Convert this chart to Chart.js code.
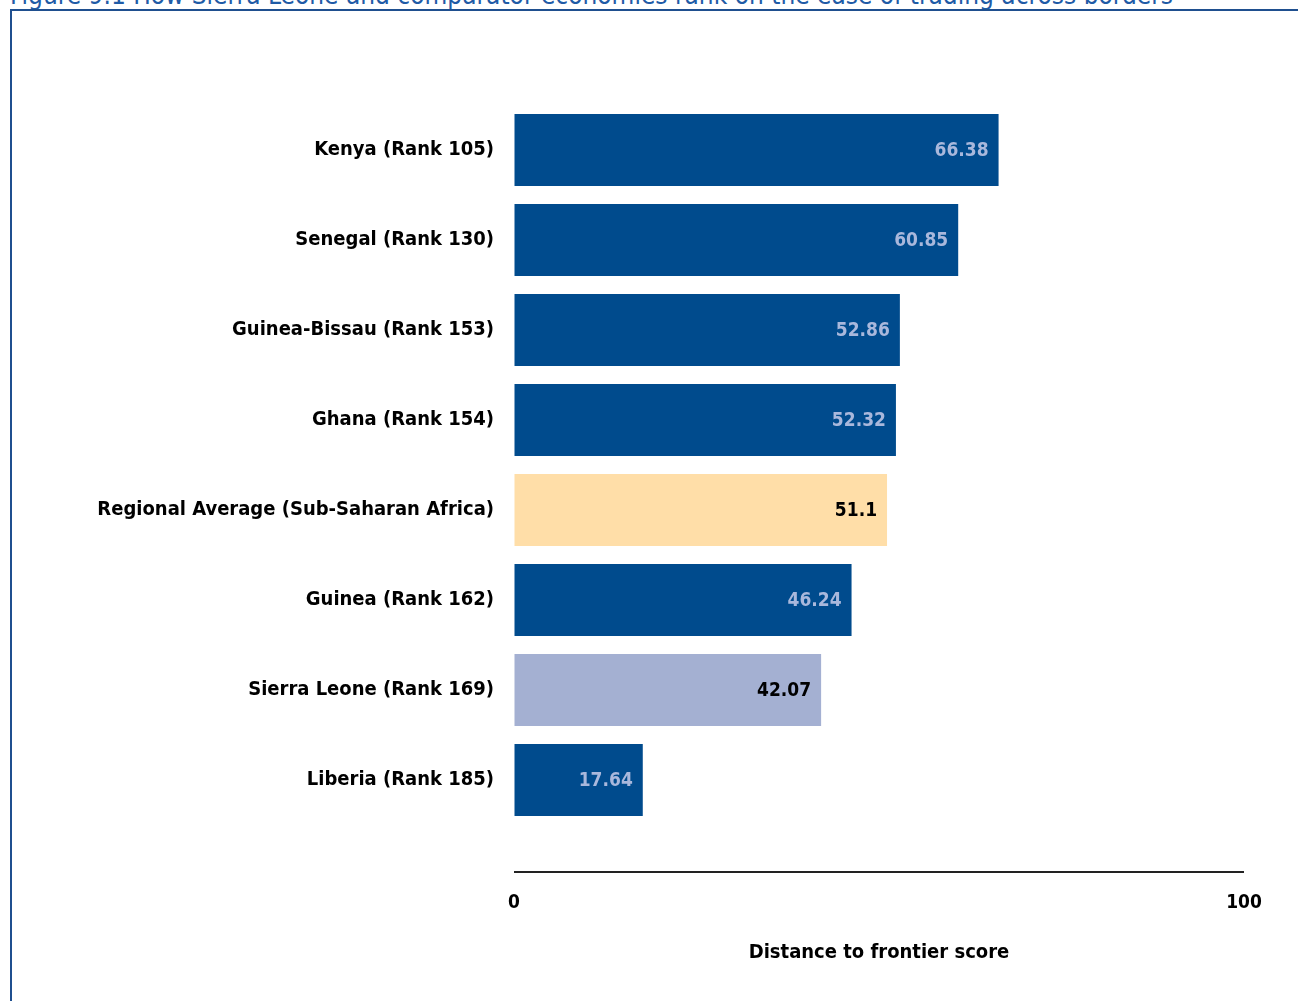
<!DOCTYPE html>
<html>
<head>
<meta charset="utf-8">
<script src="https://cdn.jsdelivr.net/npm/chart.js@4.4.0/dist/chart.umd.min.js"></script>
<style>
  body { margin: 0; background: #fff; overflow: hidden; }
  #wrap { position: relative; width: 1298px; height: 1001px; }
  #title {
    position: absolute; left: 10px; top: -20px; white-space: nowrap;
    font: 26px 'DejaVu Sans Condensed', 'DejaVu Sans', sans-serif; color: #1f5ba6;
  }
  #frame {
    position: absolute; left: 10px; top: 9px; width: 1300px; height: 1000px;
    border-left: 2px solid #1f4f8f; border-top: 2px solid #1f4f8f;
  }
  canvas { position: absolute; left: 0; top: 0; }
</style>
</head>
<body>
<div id="wrap">
  <div id="title">Figure 9.1 How Sierra Leone and comparator economies rank on the ease of trading across borders</div>
  <div id="frame"></div>
  <canvas id="chart" width="1298" height="1001"></canvas>
</div>
<script>
// economies, scores and bar colours
const economies = [
    'Kenya (Rank 105)',
    'Senegal (Rank 130)',
    'Guinea-Bissau (Rank 153)',
    'Ghana (Rank 154)',
    'Regional Average (Sub-Saharan Africa)',
    'Guinea (Rank 162)',
    'Sierra Leone (Rank 169)',
    'Liberia (Rank 185)'
];
const scores = [66.38, 60.85, 52.86, 52.32, 51.1, 46.24, 42.07, 17.64];
const scoreLabels = ['66.38', '60.85', '52.86', '52.32', '51.1', '46.24', '42.07', '17.64'];
const barColors = ['#004b8d', '#004b8d', '#004b8d', '#004b8d', '#ffdea8', '#004b8d', '#a4b0d2', '#004b8d'];
const valueColors = ['#a9b8dc', '#a9b8dc', '#a9b8dc', '#a9b8dc', '#000000', '#a9b8dc', '#000000', '#a9b8dc'];
const xTicks = [0, 100];

const fontFamily = "'DejaVu Sans Condensed', 'DejaVu Sans', sans-serif";

// value labels inside the bar ends
const valueLabels = {
    id: 'valueLabels',
    afterDatasetsDraw(chart) {
        const ctx = chart.ctx;
        const meta = chart.getDatasetMeta(0);
        ctx.save();
        ctx.font = 'bold 19px ' + fontFamily;
        ctx.textAlign = 'right';
        ctx.textBaseline = 'middle';
        meta.data.forEach(function(bar, i) {
            ctx.fillStyle = valueColors[i];
            ctx.fillText(scoreLabels[i], bar.x - 10, bar.y + 1);
        });
        ctx.restore();
    }
};

// axis line sits well below the last bar
const axisLine = {
    id: 'axisLine',
    afterDraw(chart) {
        const ctx = chart.ctx;
        const x = chart.scales.x;
        const y = chart.chartArea.bottom + 47;
        ctx.save();
        ctx.strokeStyle = '#222222';
        ctx.lineWidth = 2;
        ctx.beginPath();
        ctx.moveTo(x.getPixelForValue(0), y);
        ctx.lineTo(x.getPixelForValue(100), y);
        ctx.stroke();
        ctx.restore();
    }
};

const ctx = document.getElementById('chart').getContext('2d');
const myChart = new Chart(ctx, {
    type: 'bar',
    data: {
        labels: economies,
        datasets: [{
            data: scores,
            backgroundColor: barColors,
            borderWidth: 0,
            barPercentage: 0.8,
            categoryPercentage: 1.0
        }]
    },
    options: {
        indexAxis: 'y',
        responsive: false,
        animation: false,
        layout: {
            padding: { left: 0, right: 54, top: 105, bottom: 0 }
        },
        plugins: {
            legend: { display: false },
            tooltip: { enabled: false }
        },
        scales: {
            x: {
                min: 0,
                max: 100,
                afterBuildTicks: function(scale) {
                    scale.ticks = xTicks.map(function(v) { return { value: v }; });
                },
                afterFit: function(scale) {
                    scale.height = 176;
                },
                // invisible tick marks push the labels down under the axis line
                grid: {
                    display: true,
                    drawOnChartArea: false,
                    drawTicks: true,
                    tickLength: 64,
                    color: 'rgba(0,0,0,0)'
                },
                border: { display: false },
                ticks: {
                    padding: 3,
                    color: '#000',
                    font: { family: fontFamily, size: 19, weight: 'bold' }
                },
                title: {
                    display: true,
                    text: 'Distance to frontier score',
                    color: '#000',
                    padding: { top: 0, bottom: 36 },
                    font: { family: fontFamily, size: 20, weight: 'bold' }
                }
            },
            y: {
                afterFit: function(scale) {
                    scale.width = 514;
                },
                grid: { display: false, drawTicks: false },
                border: { display: false },
                ticks: {
                    padding: 20,
                    color: '#000',
                    font: { family: fontFamily, size: 20, weight: 'bold' }
                }
            }
        }
    },
    plugins: [valueLabels, axisLine]
});
</script>
</body>
</html>
